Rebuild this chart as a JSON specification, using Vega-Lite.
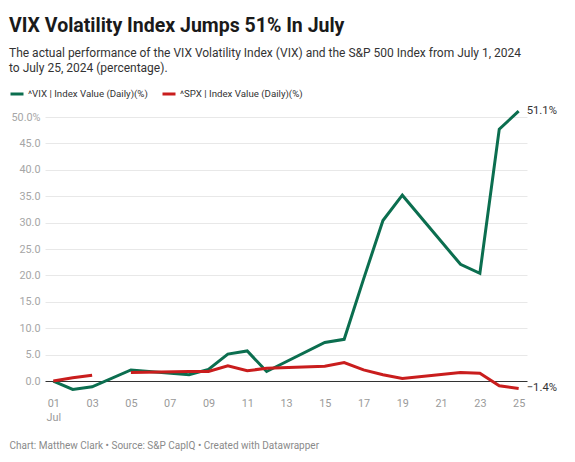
{
  "$schema": "https://vega.github.io/schema/vega-lite/v6.json",
  "width": 482,
  "height": 284,
  "autosize": {"type": "none"},
  "padding": {"left": 45, "top": 110, "right": 48, "bottom": 68},
  "background": "#ffffff",
  "config": {"font": "Roboto", "view": {"stroke": null}},
  "title": {
    "text": "VIX Volatility Index Jumps 51% In July",
    "subtitle": ["The actual performance of the VIX Volatility Index (VIX) and the S&P 500 Index from July 1, 2024", "to July 25, 2024 (percentage)."],
    "anchor": "start",
    "frame": "group",
    "dx": -36,
    "offset": 11,
    "fontSize": 19.5,
    "fontWeight": "bold",
    "color": "#1a1a1a",
    "subtitleFontSize": 12,
    "subtitleColor": "#333333",
    "subtitleLineHeight": 15,
    "subtitlePadding": 12
  },
  "data": {
    "values": [
      {"date": "2024-07-01", "series": "^VIX | Index Value (Daily)(%)", "value": 0},
      {"date": "2024-07-02", "series": "^VIX | Index Value (Daily)(%)", "value": -1.6},
      {"date": "2024-07-03", "series": "^VIX | Index Value (Daily)(%)", "value": -1.1},
      {"date": "2024-07-05", "series": "^VIX | Index Value (Daily)(%)", "value": 2.1},
      {"date": "2024-07-08", "series": "^VIX | Index Value (Daily)(%)", "value": 1.2},
      {"date": "2024-07-09", "series": "^VIX | Index Value (Daily)(%)", "value": 2.2},
      {"date": "2024-07-10", "series": "^VIX | Index Value (Daily)(%)", "value": 5.1},
      {"date": "2024-07-11", "series": "^VIX | Index Value (Daily)(%)", "value": 5.7},
      {"date": "2024-07-12", "series": "^VIX | Index Value (Daily)(%)", "value": 1.8},
      {"date": "2024-07-15", "series": "^VIX | Index Value (Daily)(%)", "value": 7.3},
      {"date": "2024-07-16", "series": "^VIX | Index Value (Daily)(%)", "value": 7.9},
      {"date": "2024-07-17", "series": "^VIX | Index Value (Daily)(%)", "value": 19.3},
      {"date": "2024-07-18", "series": "^VIX | Index Value (Daily)(%)", "value": 30.4},
      {"date": "2024-07-19", "series": "^VIX | Index Value (Daily)(%)", "value": 35.2},
      {"date": "2024-07-22", "series": "^VIX | Index Value (Daily)(%)", "value": 22.1},
      {"date": "2024-07-23", "series": "^VIX | Index Value (Daily)(%)", "value": 20.4},
      {"date": "2024-07-24", "series": "^VIX | Index Value (Daily)(%)", "value": 47.7},
      {"date": "2024-07-25", "series": "^VIX | Index Value (Daily)(%)", "value": 51.1},
      {"date": "2024-07-01", "series": "^SPX | Index Value (Daily)(%)", "value": 0},
      {"date": "2024-07-02", "series": "^SPX | Index Value (Daily)(%)", "value": 0.6},
      {"date": "2024-07-03", "series": "^SPX | Index Value (Daily)(%)", "value": 1.1},
      {"date": "2024-07-04", "series": "^SPX | Index Value (Daily)(%)", "value": null},
      {"date": "2024-07-05", "series": "^SPX | Index Value (Daily)(%)", "value": 1.6},
      {"date": "2024-07-08", "series": "^SPX | Index Value (Daily)(%)", "value": 1.8},
      {"date": "2024-07-09", "series": "^SPX | Index Value (Daily)(%)", "value": 1.8},
      {"date": "2024-07-10", "series": "^SPX | Index Value (Daily)(%)", "value": 2.9},
      {"date": "2024-07-11", "series": "^SPX | Index Value (Daily)(%)", "value": 1.95},
      {"date": "2024-07-12", "series": "^SPX | Index Value (Daily)(%)", "value": 2.4},
      {"date": "2024-07-15", "series": "^SPX | Index Value (Daily)(%)", "value": 2.8},
      {"date": "2024-07-16", "series": "^SPX | Index Value (Daily)(%)", "value": 3.5},
      {"date": "2024-07-17", "series": "^SPX | Index Value (Daily)(%)", "value": 2.1},
      {"date": "2024-07-18", "series": "^SPX | Index Value (Daily)(%)", "value": 1.2},
      {"date": "2024-07-19", "series": "^SPX | Index Value (Daily)(%)", "value": 0.5},
      {"date": "2024-07-22", "series": "^SPX | Index Value (Daily)(%)", "value": 1.6},
      {"date": "2024-07-23", "series": "^SPX | Index Value (Daily)(%)", "value": 1.45},
      {"date": "2024-07-24", "series": "^SPX | Index Value (Daily)(%)", "value": -0.9},
      {"date": "2024-07-25", "series": "^SPX | Index Value (Daily)(%)", "value": -1.4}
    ]
  },
  "encoding": {
    "x": {
      "field": "date",
      "type": "temporal",
      "scale": {
        "type": "utc",
        "domain": [
          {"year": 2024, "month": "jun", "date": 30, "hours": 13, "minutes": 40, "utc": true},
          {"year": 2024, "month": "jul", "date": 25, "hours": 10, "minutes": 20, "utc": true}
        ]
      },
      "axis": {
        "title": "Chart: Matthew Clark • Source: S&P CapIQ • Created with Datawrapper",
        "titleX": -36,
        "titleY": 51,
        "titleAnchor": null,
        "titleAlign": "left",
        "titleBaseline": "middle",
        "titleFontSize": 10,
        "titleFontWeight": "normal",
        "titleColor": "#8a8a8a",
        "domain": false,
        "ticks": false,
        "grid": false,
        "labelColor": "#9a9a9a",
        "labelFontSize": 10.8,
        "labelPadding": 3,
        "labelFlush": false,
        "labelOverlap": false,
        "labelLineHeight": 14,
        "values": [
          {"year": 2024, "month": "jul", "date": 1, "utc": true},
          {"year": 2024, "month": "jul", "date": 3, "utc": true},
          {"year": 2024, "month": "jul", "date": 5, "utc": true},
          {"year": 2024, "month": "jul", "date": 7, "utc": true},
          {"year": 2024, "month": "jul", "date": 9, "utc": true},
          {"year": 2024, "month": "jul", "date": 11, "utc": true},
          {"year": 2024, "month": "jul", "date": 13, "utc": true},
          {"year": 2024, "month": "jul", "date": 15, "utc": true},
          {"year": 2024, "month": "jul", "date": 17, "utc": true},
          {"year": 2024, "month": "jul", "date": 19, "utc": true},
          {"year": 2024, "month": "jul", "date": 21, "utc": true},
          {"year": 2024, "month": "jul", "date": 23, "utc": true},
          {"year": 2024, "month": "jul", "date": 25, "utc": true}
        ],
        "labelExpr": "utcdate(datum.value) == 1 ? ['01', 'Jul'] : utcFormat(datum.value, '%d')"
      }
    },
    "y": {
      "field": "value",
      "type": "quantitative",
      "scale": {"domain": [-2.46, 51.33], "nice": false, "zero": false},
      "axis": {
        "title": null,
        "domain": false,
        "ticks": false,
        "values": [0, 5, 10, 15, 20, 25, 30, 35, 40, 45, 50],
        "labelExpr": "datum.value == 50 ? '50.0%' : format(datum.value, '.1f')",
        "gridColor": {"condition": {"test": "datum.value == 0", "value": "#333333"}, "value": "#e8e8e8"},
        "labelColor": "#a6a6a6",
        "labelFontSize": 10.8,
        "labelPadding": 5
      }
    }
  },
  "layer": [
    {
      "mark": {"type": "line", "strokeWidth": 3},
      "encoding": {
        "color": {
          "field": "series",
          "type": "nominal",
          "sort": null,
          "scale": {
            "domain": ["^VIX | Index Value (Daily)(%)", "^SPX | Index Value (Daily)(%)"],
            "range": ["#0b6e4f", "#c91d1d"]
          },
          "legend": {
            "orient": "none",
            "legendX": -36,
            "legendY": -24,
            "direction": "horizontal",
            "title": null,
            "symbolType": "stroke",
            "symbolStrokeWidth": 3,
            "symbolSize": 169,
            "labelFontSize": 9.7,
            "labelColor": "#333333",
            "labelOffset": 3,
            "columnPadding": 8
          }
        }
      }
    },
    {
      "transform": [
        {"filter": "utcdate(datum.date) == 25"},
        {"calculate": "format(datum.value, '.1f') + '%'", "as": "label"}
      ],
      "mark": {"type": "text", "align": "left", "baseline": "middle", "dx": 8, "fontSize": 11.3, "color": "#333333"},
      "encoding": {"text": {"field": "label", "type": "nominal"}}
    }
  ]
}
